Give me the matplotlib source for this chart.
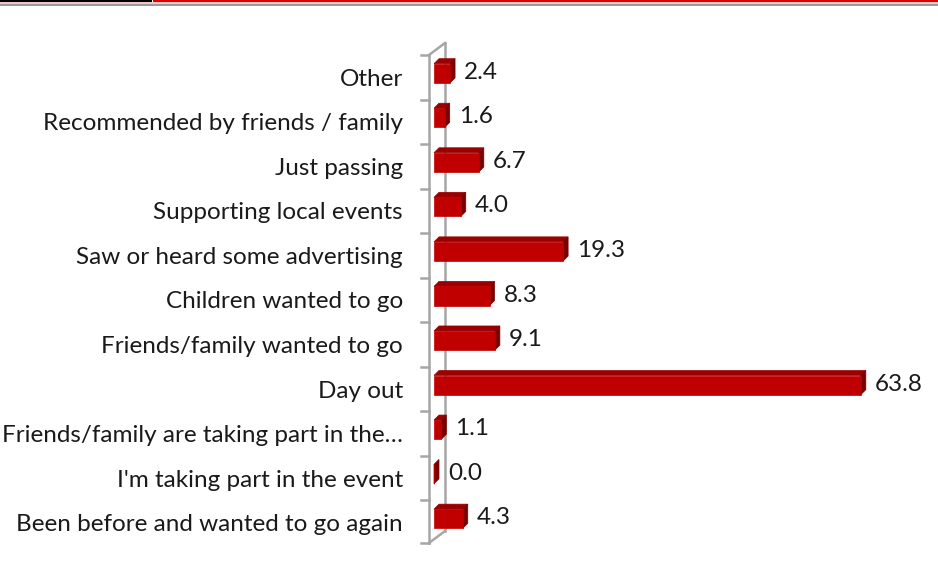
import matplotlib
matplotlib.use("Agg")
import matplotlib.pyplot as plt
from matplotlib.patches import Polygon, Rectangle
from matplotlib.lines import Line2D
import numpy as np

# reasons for attending, listed bottom to top
categories = [
    "Been before and wanted to go again",
    "I'm taking part in the event",
    "Friends/family are taking part in the\u2026",
    "Day out",
    "Friends/family wanted to go",
    "Children wanted to go",
    "Saw or heard some advertising",
    "Supporting local events",
    "Just passing",
    "Recommended by friends / family",
    "Other",
]
percent = [4.3, 0.0, 1.1, 63.8, 9.1, 8.3, 19.3, 4.0, 6.7, 1.6, 2.4]

W, H = 938, 575
fig = plt.figure(figsize=(W / 100, H / 100), dpi=100)
fig.patch.set_facecolor("white")

# axes: x=0 at pixel 434, 6.69 px per unit; categories span y 55..545 px
ax_left, ax_right = 434, 934
ax_top, ax_bot = 55, 545
ax = fig.add_axes([ax_left / W, (H - ax_bot) / H,
                   (ax_right - ax_left) / W, (ax_bot - ax_top) / H])
ax.set_xlim(0, (ax_right - ax_left) / 6.69)
ax.set_ylim(-0.5, len(categories) - 0.5)
ax.axis("off")

font = "Lato"
fsize = 17.5
fig.canvas.draw()
to_px = ax.transData.transform

# wall lines (front and back edges of the 3D side wall)
dx_wall, dy_wall = 16, 12
x0_px = to_px((0, 0))[0] - 5
y_lo = to_px((0, -0.5))[1] + 2
y_hi = to_px((0, len(categories) - 0.5))[1]
wall_col = "#a6a6a6"
for pts in [
    [(x0_px, y_lo), (x0_px, y_hi)],
    [(x0_px + dx_wall, y_lo + dy_wall), (x0_px + dx_wall, y_hi + dy_wall)],
    [(x0_px, y_hi), (x0_px + dx_wall, y_hi + dy_wall)],
    [(x0_px, y_lo), (x0_px + dx_wall, y_lo + dy_wall)],
]:
    xs, ys = zip(*pts)
    fig.add_artist(Line2D(np.array(xs) / W, np.array(ys) / H, color=wall_col,
                          lw=1.8, transform=fig.transFigure, zorder=1))
for b in np.arange(-0.5, len(categories), 1.0):
    yb = to_px((0, b))[1]
    if b == -0.5:
        yb = y_lo
    fig.add_artist(Line2D(np.array([x0_px - 8, x0_px]) / W, np.array([yb, yb]) / H,
                          color=wall_col, lw=1.8, transform=fig.transFigure, zorder=1))

# 3D bars: front, top and side faces
dx, dy = 5, 5
bar_h = 0.43
front_col, top_col, side_col = "#c00000", "#9a0000", "#7a0000"
for i, v in enumerate(percent):
    yc = i + 0.09
    (xa, ya) = to_px((0, yc - bar_h / 2))
    (xb, yb) = to_px((v, yc + bar_h / 2))
    top = [(xa, yb), (xb, yb), (xb + dx, yb + dy), (xa + dx, yb + dy)]
    side = [(xb, ya), (xb + dx, ya + dy), (xb + dx, yb + dy), (xb, yb)]
    front = [(xa, ya), (xb, ya), (xb, yb), (xa, yb)]
    for poly, col in [(top, top_col), (side, side_col), (front, front_col)]:
        p = np.array(poly) / [W, H]
        fig.add_artist(Polygon(p, closed=True, facecolor=col, edgecolor=col,
                               lw=0.5, transform=fig.transFigure, zorder=3))
    # value label
    lx = xb + 14
    ly = to_px((0, i))[1] + 5
    fig.text(lx / W, ly / H, f"{v:.1f}", ha="left", va="center",
             fontsize=fsize, family=font, color="#1a1a1a")

# category labels
for i, c in enumerate(categories):
    ly = to_px((0, i))[1] - 2
    fig.text(403 / W, ly / H, c, ha="right", va="center",
             fontsize=fsize, family=font, color="#1a1a1a")

# header rule along the top edge
fig.add_artist(Rectangle((0, 1 - 1.5 / H), 152 / W, 1.5 / H, color="black",
                         transform=fig.transFigure, lw=0))
fig.add_artist(Rectangle((153 / W, 1 - 1.5 / H), 1 - 153 / W, 1.5 / H, color="#e00000",
                         transform=fig.transFigure, lw=0))
fig.add_artist(Rectangle((0, 1 - 4 / H), 1, 2.5 / H, color="#f5c6c6",
                         transform=fig.transFigure, lw=0))
fig.add_artist(Rectangle((0, 1 - 5.5 / H), 1, 1.5 / H, color="#9a9a9a",
                         transform=fig.transFigure, lw=0))

fig.savefig("out.png", dpi=100, facecolor="white")
